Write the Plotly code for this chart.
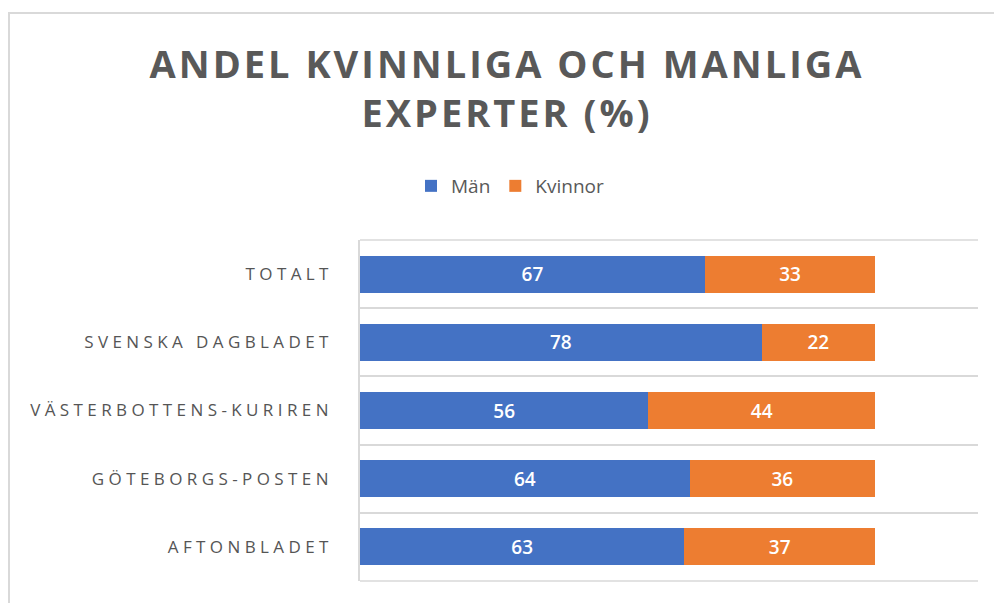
import plotly.graph_objects as go

categories = ["TOTALT", "SVENSKA DAGBLADET", "VÄSTERBOTTENS-KURIREN", "GÖTEBORGS-POSTEN", "AFTONBLADET"]
man = [67, 78, 56, 64, 63]
kvinnor = [33, 22, 44, 36, 37]
title_text = "ANDEL KVINNLIGA OCH MANLIGA<br>EXPERTER (%)"

W, H = 994, 603
L, R, T, B = 360, 16, 240, 22
pw, ph = W - L - R, H - T - B

def px(x):
    return (x - L) / pw

def py(y):
    return (H - B - y) / ph

label_font = dict(color="white", size=19, family="Open Sans", weight=600)

fig = go.Figure()
fig.add_trace(go.Bar(
    y=categories, x=man, name="Män", orientation="h",
    marker=dict(color="#4472C4", line=dict(width=0)),
    texttemplate="%{x}", textposition="inside", insidetextanchor="middle",
    textfont=label_font,
))
fig.add_trace(go.Bar(
    y=categories, x=kvinnor, name="Kvinnor", orientation="h",
    marker=dict(color="#ED7D31", line=dict(width=0)),
    texttemplate="%{x}", textposition="inside", insidetextanchor="middle",
    textfont=label_font,
))

grid = "#d9d9d9"
fig.update_layout(
    width=W, height=H,
    barmode="stack", bargap=0.455,
    margin=dict(l=L, r=R, t=T, b=B, autoexpand=False),
    paper_bgcolor="white", plot_bgcolor="white",
    font=dict(family="Open Sans", color="#595959"),
    title=dict(text=title_text, x=px(507), xref="paper", xanchor="center",
               y=1 - 78 / H, yanchor="middle",
               font=dict(size=38, family="Open Sans", weight="bold", color="#595959")),
    legend=dict(orientation="h", x=px(510), xanchor="center", y=py(186), yanchor="middle",
                font=dict(size=19, color="#595959"), itemwidth=30, traceorder="normal",
                bgcolor="rgba(0,0,0,0)"),
    xaxis=dict(range=[0, 120], showgrid=False, showticklabels=False, zeroline=False,
               showline=False, fixedrange=True),
    yaxis=dict(type="category", autorange="reversed", tickson="boundaries",
               showgrid=True, gridcolor=grid, gridwidth=1.5,
               showline=True, linecolor=grid, linewidth=1.5,
               ticks="", ticklabelstandoff=22,
               tickfont=dict(size=17, color="#555555", family="Open Sans")),
    shapes=[
        dict(type="rect", xref="paper", yref="paper",
             x0=px(9), x1=px(1010), y0=py(620), y1=py(13),
             line=dict(color=grid, width=2), fillcolor="rgba(0,0,0,0)", layer="below"),
        dict(type="line", xref="paper", yref="paper", x0=0, x1=1, y0=1, y1=1,
             line=dict(color=grid, width=1.5), layer="below"),
        dict(type="line", xref="paper", yref="paper", x0=0, x1=1, y0=0, y1=0,
             line=dict(color=grid, width=1.5), layer="below"),
    ],
)

post = """
var s=document.createElement('style');
s.innerHTML='.gtitle{letter-spacing:3px} .ytick text{letter-spacing:4.4px}';
document.head.appendChild(s);
"""
fig.write_html("out.html", post_script=post)
